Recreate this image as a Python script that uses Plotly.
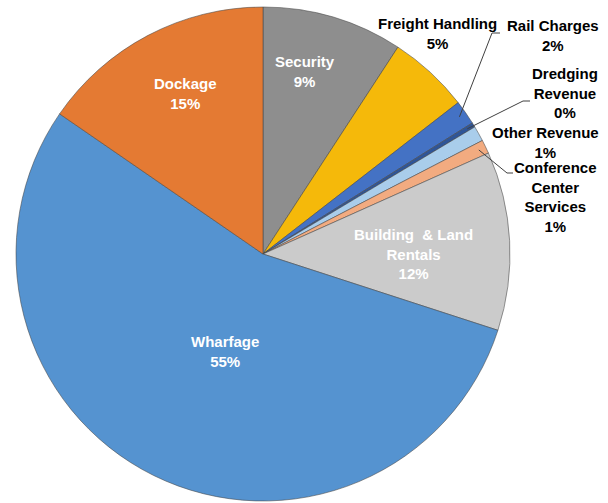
import math
import plotly.graph_objects as go

# ---- data ----
categories = ["Security", "Freight Handling", "Rail Charges", "Dredging Revenue",
              "Other Revenue", "Conference Center Services", "Building & Land Rentals",
              "Wharfage", "Dockage"]
label_text = ["Security", "Freight Handling", "Rail Charges", "Dredging<br>Revenue",
              "Other Revenue", "Conference<br>Center<br>Services", "Building  & Land<br>Rentals",
              "Wharfage", "Dockage"]
values = [9.2, 5.3, 1.6, 0.3, 1.0, 0.9, 11.7, 54.6, 15.4]

# ---- style ----
colors = ["#8e8e8e", "#f5b90a", "#4472c4", "#2f5597", "#a9cdeb", "#f2ab80",
          "#cbcbcb", "#5593d0", "#e47a33"]
W, H = 608, 503
CX, CY, R = 263, 254, 247  # pie centre and radius in pixels

dom_x = [(CX - R) / W, (CX + R) / W]
dom_y = [1 - (CY + R) / H, 1 - (CY - R) / H]

fig = go.Figure(go.Pie(
    labels=categories, values=values, sort=False, direction="clockwise", rotation=0,
    marker=dict(colors=colors, line=dict(color="rgba(70,70,70,0.55)", width=1)),
    textinfo="none", hoverinfo="label+percent", showlegend=False,
    domain=dict(x=dom_x, y=dom_y),
))

total = sum(values)
pct = [v / total for v in values]
cum = 0
mids = []
for v in values:
    mids.append((cum + v / 2) / total * 360)
    cum += v


def px_to_paper(px, py):
    return px / W, 1 - py / H


def polar_px(angle_deg, rfrac):
    a = math.radians(angle_deg)
    return CX + R * rfrac * math.sin(a), CY - R * rfrac * math.cos(a)


# inside labels: (index, angle offset in degrees, radius fraction)
inside = {0: (-3.5, 0.76), 6: (3.0, 0.61), 7: (-5.0, 0.425), 8: (2.0, 0.72)}
# outside labels: index -> (text centre px, leader elbow px, leader end px or None)
outside = {
    1: ((437, 34), None),
    2: ((553, 35), ((492, 33), (500, 33))),
    3: ((565, 93), ((523, 101), (530, 101))),
    4: ((545, 143), None),
    5: ((555, 197), ((507, 173), (513, 173))),
}

font_family = "Liberation Sans, Arial, sans-serif"
annotations = []
shapes = []
for i, (doff, rf) in inside.items():
    x, y = px_to_paper(*polar_px(mids[i] + doff, rf))
    annotations.append(dict(
        x=x, y=y, xref="paper", yref="paper", showarrow=False,
        xanchor="center", yanchor="middle",
        text=f"<b>{label_text[i]}<br>{round(pct[i] * 100)}%</b>",
        font=dict(family=font_family, size=15, color="white"), align="center"))

for i, (tc, leader) in outside.items():
    x, y = px_to_paper(*tc)
    annotations.append(dict(
        x=x, y=y, xref="paper", yref="paper", showarrow=False,
        xanchor="center", yanchor="middle", borderpad=0,
        text=f"<b>{label_text[i]}<br>{round(pct[i] * 100)}%</b>",
        font=dict(family=font_family, size=15, color="black"), align="center"))
    if leader:
        sx, sy = polar_px(mids[i], 0.97)
        (ex, ey), (fx, fy) = leader
        pts = [px_to_paper(sx, sy), px_to_paper(ex, ey), px_to_paper(fx, fy)]
        path = "M {} {} L {} {} L {} {}".format(*[c for p in pts for c in p])
        shapes.append(dict(type="path", xref="paper", yref="paper", path=path,
                           line=dict(color="#404040", width=1)))

fig.update_layout(
    width=W, height=H, margin=dict(l=0, r=0, t=0, b=0),
    paper_bgcolor="white", plot_bgcolor="white",
    annotations=annotations, shapes=shapes,
)

fig.write_html("out.html")
